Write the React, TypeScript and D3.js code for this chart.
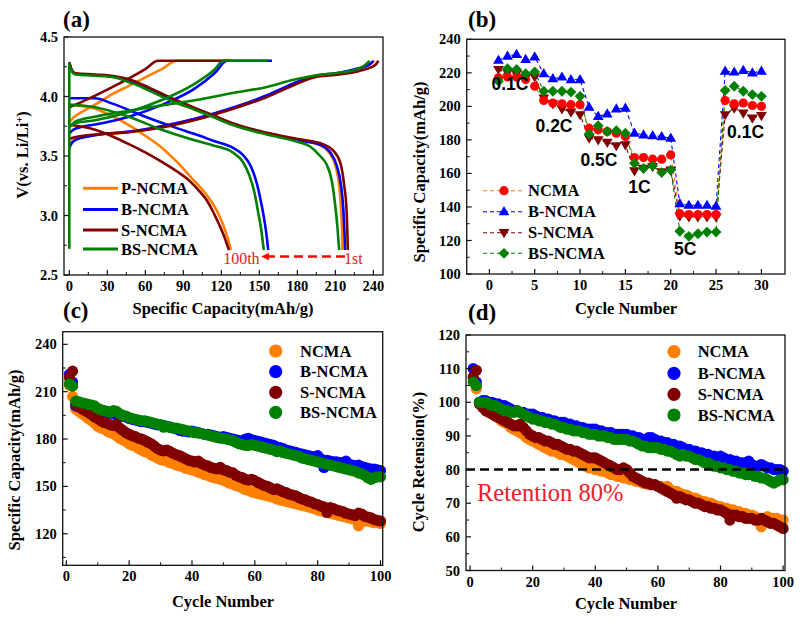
import * as d3 from 'd3';

const SERIF = "'Liberation Serif', 'Times New Roman', Times, serif";
const SANS = "'Liberation Sans', Arial, sans-serif";

const ORANGE = '#FF8000';
const BLUE = '#0000FF';
const MAROON = '#800000';
const GREEN = '#008000';
const RED = '#FF0000';
const NOTE_RED = '#E8202A';

// ---------- (a) charge / discharge curves, [capacity mAh/g, voltage V] ----------
const P_CH1: [number, number][] = [[0, 3.6], [3, 3.63], [10, 3.655], [20, 3.675], [47, 3.7], [73, 3.75], [100, 3.815], [130, 3.905], [156, 4.005], [177, 4.105], [193, 4.17], [213, 4.195], [229, 4.235], [237, 4.27], [241, 4.3]];
const P_DIS1: [number, number][] = [[0, 4.28], [2, 4.22], [5, 4.19], [20, 4.18], [36, 4.165], [47, 4.135], [63, 4.065], [81, 3.975], [100, 3.895], [113, 3.84], [129, 3.77], [156, 3.69], [182, 3.63], [198, 3.59], [205, 3.53], [210, 3.42], [213, 3.25], [214.5, 3.05], [215.3, 2.85], [215.5, 2.71]];
const P_CH100: [number, number][] = [[0, 3.78], [3, 3.82], [10, 3.87], [20, 3.93], [34, 4.02], [47, 4.09], [60, 4.16], [73, 4.23], [85, 4.3], [128, 4.3]];
const P_DIS100: [number, number][] = [[0, 3.93], [10, 3.92], [20, 3.9], [33, 3.84], [47, 3.76], [60, 3.67], [73, 3.57], [85, 3.45], [97, 3.31], [104, 3.23], [110, 3.15], [116, 3.05], [121.5, 2.92], [125, 2.81], [127.5, 2.71]];

const B_CH1: [number, number][] = [[0, 3.57], [2, 3.61], [6, 3.64], [15, 3.665], [30, 3.69], [47, 3.705], [73, 3.75], [100, 3.815], [130, 3.91], [156, 4.01], [177, 4.11], [193, 4.17], [213, 4.2], [229, 4.24], [237, 4.27], [240, 4.3]];
const B_DIS1: [number, number][] = [[0, 4.28], [2, 4.22], [5, 4.19], [20, 4.18], [36, 4.165], [47, 4.135], [63, 4.065], [81, 3.975], [100, 3.895], [113, 3.84], [129, 3.77], [156, 3.69], [182, 3.63], [199, 3.59], [206, 3.53], [211, 3.42], [214.5, 3.25], [216.3, 3.05], [217.2, 2.85], [217.6, 2.71]];
const B_CH100: [number, number][] = [[0, 3.69], [3, 3.72], [10, 3.745], [20.5, 3.765], [47, 3.83], [73, 3.93], [99.5, 4.07], [115, 4.2], [124.5, 4.3], [160, 4.3]];
const B_DIS100: [number, number][] = [[0, 3.985], [20, 3.985], [34, 3.94], [60, 3.83], [86, 3.73], [103, 3.67], [113, 3.63], [129, 3.57], [137, 3.51], [143, 3.42], [148, 3.27], [151, 3.13], [153.5, 2.99], [155.5, 2.85], [157, 2.71]];

const S_CH1: [number, number][] = [[0, 3.645], [5, 3.66], [20, 3.68], [47, 3.7], [73, 3.74], [100, 3.805], [130, 3.9], [156, 3.995], [177, 4.095], [193, 4.16], [213, 4.185], [229, 4.215], [238, 4.245], [242, 4.27], [244, 4.3]];
const S_DIS1: [number, number][] = [[0, 4.29], [2, 4.22], [5, 4.195], [20, 4.185], [36, 4.17], [47, 4.145], [63, 4.075], [81, 3.985], [100, 3.9], [113, 3.845], [129, 3.775], [156, 3.695], [182, 3.64], [200, 3.6], [208, 3.55], [214, 3.44], [217, 3.25], [218.8, 3.05], [219.5, 2.85], [219.8, 2.71]];
const S_CH100: [number, number][] = [[0, 3.91], [10, 3.955], [20, 4.005], [35, 4.085], [50, 4.17], [60, 4.23], [70, 4.3], [127, 4.3]];
const S_DIS100: [number, number][] = [[0, 3.76], [8, 3.75], [20.5, 3.72], [35, 3.66], [47, 3.6], [60, 3.53], [73, 3.45], [85, 3.37], [95, 3.29], [103, 3.2], [109, 3.12], [114, 3.02], [118, 2.93], [122, 2.83], [126, 2.71]];

const BS_CH1: [number, number][] = [[0, 3.74], [5, 3.79], [20, 3.83], [47, 3.88], [73, 3.925], [100, 3.97], [129, 4.03], [156, 4.08], [177, 4.14], [193, 4.175], [213, 4.2], [226, 4.225], [233, 4.26], [237, 4.3]];
const BS_DIS1: [number, number][] = [[0, 4.26], [2, 4.21], [5, 4.185], [20, 4.175], [36, 4.16], [47, 4.12], [57, 4.08], [63, 4.05], [81, 3.96], [100, 3.885], [113, 3.83], [129, 3.76], [156, 3.68], [180, 3.62], [190, 3.58], [198, 3.5], [203, 3.43], [207, 3.3], [209.5, 3.12], [211.5, 2.92], [213, 2.71]];
const BS_CH100: [number, number][] = [[0, 3.75], [5, 3.775], [20.5, 3.8], [47, 3.87], [73, 3.97], [99.5, 4.11], [114, 4.22], [121.8, 4.3], [157, 4.3]];
const BS_DIS100: [number, number][] = [[0, 3.93], [10, 3.925], [20.5, 3.91], [47, 3.83], [73, 3.72], [99.5, 3.63], [113, 3.59], [129, 3.53], [137, 3.45], [142, 3.34], [146, 3.2], [149, 3.03], [151.5, 2.88], [153.5, 2.71]];
const BS_REST: [number, number][] = [[0, 2.72], [0, 4.28]];

// ---------- (b) rate capability ----------
const RATE_CYCLES = d3.range(1, 31);
const NCMA_RATE = [217, 217.5, 217.5, 216, 212, 203.5, 202, 201.5, 201, 201, 187, 186, 185, 184, 182, 169.5, 169.5, 168.5, 168.5, 171, 136, 135.5, 135.5, 135.5, 135.5, 203.5, 201.5, 202, 200.5, 200];
const B_RATE = [227.5, 230, 231, 228, 229.5, 219.5, 216.5, 217.5, 216, 216, 199.5, 194, 195.5, 198.5, 199, 184, 183, 182.5, 182, 181, 142, 141, 141, 141, 140.5, 221, 220.5, 221.5, 220, 221];
const S_RATE = [222, 220, 219.5, 217, 217.5, 205, 201.5, 198.5, 196.5, 195, 181, 180, 178.5, 176.5, 177, 161.5, 163, 164, 161, 162, 134.5, 134, 134, 134, 134, 195, 199, 196, 193, 194.5];
const BS_RATE = [215, 222.5, 222, 219.5, 220.5, 209, 209, 209, 208.5, 206, 183.5, 188.5, 185, 185.5, 184, 166, 163, 164.5, 160.5, 162, 125.5, 122.5, 124, 125, 125, 209.5, 212, 209, 207, 206];
const RATE_LABELS = ['0.1C', '0.2C', '0.5C', '1C', '5C', '0.1C'];
const RATE_LABEL_AT: [number, number][] = [[2.27, 209.8], [7.13, 184.9], [12.09, 164.6], [16.56, 148.5], [21.6, 111.3], [28.25, 181]];

// ---------- (c) capacity vs cycle ----------
const CYCLES = d3.range(1, 101);
const NCMA_CAP = [214, 207, 199, 197.5, 196, 194.5, 193, 191.5, 190, 188,
  187, 186.5, 185, 184, 183.5, 182, 180.5, 179.5, 178.5, 177,
  176, 175.5, 174, 173, 172, 171.5, 170, 169, 168, 167,
  166.5, 166, 165, 164.5, 163.5, 163, 162.5, 161.5, 161, 160.5,
  160, 159, 158.5, 157.5, 157, 156, 155.5, 155, 154.5, 154,
  153, 152, 151.5, 150.5, 150, 149, 148, 147.5, 146.5, 146,
  145.5, 145, 144.5, 144, 143.5, 143, 142, 141.5, 141, 140.5,
  140, 139.5, 139, 138.5, 138, 137.5, 137, 136.5, 136, 135,
  134.5, 134, 133.5, 133, 132.5, 132, 131.5, 131, 130.5, 130,
  129.5, 129, 125, 128.5, 128, 128, 127.5, 127, 127, 126.5];
const B_CAP = [221, 216, 201, 200.5, 201, 200.5, 200, 199.5, 199, 199,
  198.5, 197.5, 197, 196.5, 196, 195.5, 195, 194.5, 194, 193,
  192.5, 192, 191.5, 191, 191, 190.5, 190, 189.5, 189, 189,
  188.5, 188, 187.5, 187, 186.5, 185.5, 185, 185, 184.5, 185,
  184.5, 184, 183.5, 183, 183, 182.5, 182, 181.5, 181, 181.5,
  181, 180.5, 180, 179.5, 179, 178.5, 180, 180.5, 179.5, 179,
  178.5, 178, 177.5, 177, 176.5, 176, 175, 174.5, 174, 173,
  172.5, 172, 171.5, 171, 170.5, 170, 169.5, 169, 168.5, 169.5,
  167.5, 162, 166.5, 166, 165.5, 165.5, 165, 165, 166, 164,
  163.5, 163, 163.5, 162.5, 162, 161.5, 161, 161, 160.5, 160];
const S_CAP = [219, 223, 202, 200.5, 199, 198, 197, 195.5, 194, 193,
  191.5, 190.5, 190, 189, 188.5, 189.5, 187, 185.5, 184, 183,
  182, 181.5, 180.5, 180, 179, 178, 177, 175.5, 174, 173,
  172.5, 173, 172, 171, 170, 169.5, 168.5, 167.5, 166.5, 166,
  165.5, 166, 164.5, 163.5, 163, 162, 161.5, 161, 162, 160.5,
  160, 159, 158.5, 157, 156, 155.5, 154.5, 154, 154.5, 153.5,
  152.5, 151.5, 150.5, 150, 149, 148, 148.5, 147.5, 146.5, 146,
  145, 144.5, 144, 143, 142, 141.5, 140.5, 140, 139, 138.5,
  137.5, 137, 133.5, 136.5, 136, 135, 134.5, 134, 133, 132.5,
  132, 131.5, 133, 132.5, 131, 130.5, 130, 129, 128.5, 128];
const BS_CAP = [215, 213.5, 204, 203.5, 203, 202.5, 202, 201.5, 201, 199.5,
  198.5, 198, 197.5, 197, 198, 197.5, 196, 195, 194.5, 193.5,
  193, 192.5, 192, 191.5, 191.5, 191, 190.5, 190, 189.5, 189,
  187.5, 188, 187.5, 187, 187, 186.5, 186, 185.5, 185, 184.5,
  184, 184, 183.5, 183, 182.5, 182, 181.5, 181, 180.5, 180.5,
  180, 179.5, 179, 178, 177, 176.5, 176, 176, 176.5, 176,
  175.5, 175, 174.5, 174, 173.5, 173, 172, 172.5, 171.5, 171,
  170.5, 170, 169.5, 169, 168, 167.5, 167, 166.5, 166, 165.5,
  165, 164.5, 164, 163.5, 163, 162.5, 162, 161.5, 161, 160.5,
  160, 159.5, 158.5, 158, 157, 155.5, 154.5, 155.5, 156, 156];

// ---------- (d) retention vs cycle ----------
const NCMA_RET = [107, 104, 100, 99, 98, 97.5, 97, 96, 95.5, 94.5,
  94, 93.5, 92.5, 92, 91.5, 91, 90.5, 89.5, 89, 88.5,
  88, 87.5, 87, 86.5, 86, 85.5, 85.5, 85, 84.5, 84.5,
  84, 83.5, 83, 82.5, 82, 81.5, 81, 80.5, 80.5, 80,
  80, 79.5, 79.5, 79, 78.5, 78.5, 78, 78, 77.5, 77.5,
  77, 77, 76.5, 76.5, 76, 76, 75.5, 75.5, 75.5, 75,
  75, 74.5, 75, 74, 73.5, 73.5, 73, 72.5, 72.5, 72,
  71.5, 71.5, 71, 70.5, 70.5, 70, 70, 69.5, 69, 69,
  68.5, 68.5, 68, 68, 67.5, 67.5, 67, 67, 66.5, 66.5,
  66, 65.5, 63, 65.5, 66, 65.5, 65.5, 65.5, 65, 65];
const B_RET = [110, 106, 100, 100.5, 100.5, 100, 100, 99.5, 99.5, 99,
  99, 98.5, 98, 97.5, 97.5, 97, 97, 96.5, 96.5, 96.5,
  96, 95.5, 95.5, 95, 95, 94.5, 94.5, 94, 94, 94,
  93.5, 93.5, 93, 93, 92.5, 92.5, 92, 92, 92, 92,
  91.5, 91.5, 91, 91, 91, 90.5, 90.5, 90.5, 90.5, 90.5,
  90, 90, 89.5, 89.5, 89, 89, 89.5, 89.5, 89, 88.5,
  88.5, 88, 88, 87.5, 87.5, 87, 87, 86.5, 86, 86,
  85.5, 85.5, 85, 85, 84.5, 84.5, 84, 84, 83.5, 84,
  83.5, 82.5, 83, 82.5, 82.5, 82, 82, 82, 82.5, 81.5,
  81, 81, 81.5, 81, 80.5, 80.5, 80, 80, 80, 79.5];
const S_RET = [107.5, 109.5, 99.5, 98.5, 97.5, 97, 96.5, 96, 95.5, 95,
  94.5, 94, 93.5, 93, 93, 93.5, 92.5, 91.5, 90.5, 90,
  89.5, 89.5, 89, 88.5, 88.5, 88, 87.5, 87.5, 87, 86.5,
  86, 86, 85.5, 85.5, 85, 84.5, 84, 83.5, 83.5, 83.5,
  83, 82.5, 82, 81.5, 81, 80.5, 80, 80, 80.5, 80,
  79, 78, 77.5, 77, 76.5, 76, 76, 75.5, 75.5, 75,
  74.5, 74, 73.5, 73, 72.5, 71.5, 72, 71.5, 71, 71,
  70.5, 70, 70, 69.5, 69, 69, 68.5, 68.5, 68, 68,
  67.5, 67, 65, 66.5, 66.5, 66, 66, 65.5, 65.5, 65.5,
  65, 65, 65.5, 65, 64.5, 64, 64, 63.5, 63, 62.5];
const BS_RET = [106, 105, 100, 100, 100, 99.5, 99, 99, 98.5, 98,
  97.5, 97.5, 97, 97, 97.5, 97, 96.5, 96, 95.5, 95,
  95, 94.5, 94.5, 94, 94, 93.5, 93.5, 93, 92.5, 92.5,
  92, 92, 91.5, 91.5, 91.5, 91, 91, 90.5, 90.5, 90.5,
  90, 90, 90, 89.5, 89.5, 89, 89, 89, 89, 89,
  88.5, 88.5, 88, 87.5, 87, 87, 86.5, 86.5, 86.5, 86.5,
  86, 86, 85.5, 85.5, 85, 84.5, 84, 84.5, 84, 84,
  83.5, 83, 83, 82.5, 82, 82, 81.5, 81, 81, 80.5,
  80.5, 80, 80, 79.5, 79.5, 79, 79, 78.5, 78.5, 78.5,
  78, 78, 77.5, 77.5, 77, 76.5, 76, 76.5, 77, 77];

// ---------- ticks ----------
const A_XTICKS = d3.range(0, 241, 30);
const A_YTICKS = [2.5, 3.0, 3.5, 4.0, 4.5];
const B_XTICKS = d3.range(0, 31, 5);
const B_YTICKS = d3.range(100, 241, 20);
const C_XTICKS = d3.range(0, 101, 20);
const C_YTICKS = d3.range(120, 241, 30);
const D_XTICKS = d3.range(0, 101, 20);
const D_YTICKS = d3.range(50, 121, 10);

type Lin = d3.ScaleLinear<number, number>;

interface AxesProps {
  x: Lin;
  y: Lin;
  xTicks: number[];
  xMinor: number[];
  yTicks: number[];
  yMinor: number[];
  yFmt?: (v: number) => string;
}

function Axes({ x, y, xTicks, xMinor, yTicks, yMinor, yFmt = (v) => String(v) }: AxesProps) {
  const [x0, x1] = x.range();
  const [y1, y0] = y.range();
  return (
    <g>
      <rect x={x0} y={y0} width={x1 - x0} height={y1 - y0} fill='none' stroke='#111' strokeWidth={1.3} />
      {xMinor.map((t) => (
        <line key={'xm' + t} x1={x(t)} x2={x(t)} y1={y1} y2={y1 - 3} stroke='#111' strokeWidth={1} />
      ))}
      {xTicks.map((t) => (
        <g key={'x' + t}>
          <line x1={x(t)} x2={x(t)} y1={y1} y2={y1 - 5} stroke='#111' strokeWidth={1.2} />
          <text x={x(t)} y={y1 + 16} textAnchor='middle' fontSize={14.5} fontWeight='bold'>
            {t}
          </text>
        </g>
      ))}
      {yMinor.map((t) => (
        <line key={'ym' + t} x1={x0} x2={x0 + 3} y1={y(t)} y2={y(t)} stroke='#111' strokeWidth={1} />
      ))}
      {yTicks.map((t) => (
        <g key={'y' + t}>
          <line x1={x0} x2={x0 + 5} y1={y(t)} y2={y(t)} stroke='#111' strokeWidth={1.2} />
          <text x={x0 - 6} y={y(t)} dy='0.35em' textAnchor='end' fontSize={14.5} fontWeight='bold'>
            {yFmt(t)}
          </text>
        </g>
      ))}
    </g>
  );
}

function YTitle({ x, y, children }: { x: number; y: number; children: React.ReactNode }) {
  return (
    <text transform={`translate(${x},${y}) rotate(-90)`} textAnchor='middle' fontSize={16.5} fontWeight='bold'>
      {children}
    </text>
  );
}

function PanelA() {
  const x = d3.scaleLinear().domain([-4.2, 247.6]).range([64, 383]);
  const y = d3.scaleLinear().domain([2.5, 4.5]).range([275, 37]);
  const line = d3.line<[number, number]>().x((d) => x(d[0])).y((d) => y(d[1])).curve(d3.curveMonotoneX);
  const straight = d3.line<[number, number]>().x((d) => x(d[0])).y((d) => y(d[1]));
  const groups: { color: string; curves: [number, number][][] }[] = [
    { color: ORANGE, curves: [P_CH1, P_DIS1, P_CH100, P_DIS100] },
    { color: BLUE, curves: [B_CH1, B_DIS1, B_CH100, B_DIS100] },
    { color: MAROON, curves: [S_CH1, S_DIS1, S_CH100, S_DIS100] },
    { color: GREEN, curves: [BS_CH1, BS_DIS1, BS_CH100, BS_DIS100] },
  ];
  const legend = [
    { name: 'P-NCMA', color: ORANGE },
    { name: 'B-NCMA', color: BLUE },
    { name: 'S-NCMA', color: MAROON },
    { name: 'BS-NCMA', color: GREEN },
  ];
  const legendY = [188.3, 209.5, 230, 249];
  const arrowY = y(2.655);
  return (
    <g>
      {groups.map((g) =>
        g.curves.map((c, i) => (
          <path key={g.color + i} d={line(c) ?? ''} fill='none' stroke={g.color} strokeWidth={2.6} strokeLinejoin='round' />
        ))
      )}
      <path d={straight(BS_REST) ?? ''} fill='none' stroke={GREEN} strokeWidth={2.6} />
      <Axes
        x={x}
        y={y}
        xTicks={A_XTICKS}
        xMinor={d3.range(15, 241, 30)}
        yTicks={A_YTICKS}
        yMinor={[2.75, 3.25, 3.75, 4.25]}
        yFmt={(v) => v.toFixed(1)}
      />
      {legend.map((l, i) => (
        <g key={l.name}>
          <line x1={83} x2={118} y1={legendY[i]} y2={legendY[i]} stroke={l.color} strokeWidth={3} />
          <text x={121} y={legendY[i]} dy='0.35em' fontSize={16.5} fontWeight='bold'>
            {l.name}
          </text>
        </g>
      ))}
      <line x1={x(217.6)} x2={x(155)} y1={arrowY} y2={arrowY} stroke={RED} strokeWidth={2.6} strokeDasharray='9 5' />
      <path
        d={`M${x(151.5)},${arrowY} L${x(157.5)},${arrowY - 3.8} L${x(157.5)},${arrowY + 3.8} Z`}
        fill={RED}
      />
      <text x={x(150.2)} y={y(2.59)} textAnchor='end' fontSize={16} fill={NOTE_RED}>
        100th
      </text>
      <text x={x(216.8)} y={y(2.59)} fontSize={16} fill={NOTE_RED}>
        1st
      </text>
      <text x={63} y={27} fontSize={23} fontWeight='bold'>(a)</text>
      <text x={223} y={314} textAnchor='middle' fontSize={16.5} fontWeight='bold'>
        Specific Capacity(mAh/g)
      </text>
      <YTitle x={28} y={155}>
        V(vs. Li/Li<tspan baselineShift='super' fontSize={10}>+</tspan>)
      </YTitle>
    </g>
  );
}

function marker(kind: string, cx: number, cy: number, color: string, key: string) {
  if (kind === 'circle') return <circle key={key} cx={cx} cy={cy} r={4.6} fill={color} />;
  if (kind === 'up')
    return <path key={key} d={`M${cx},${cy - 5.6} L${cx + 5.4},${cy + 3.6} L${cx - 5.4},${cy + 3.6} Z`} fill={color} />;
  if (kind === 'down')
    return <path key={key} d={`M${cx},${cy + 5.6} L${cx + 5.4},${cy - 3.6} L${cx - 5.4},${cy - 3.6} Z`} fill={color} />;
  return <path key={key} d={`M${cx},${cy - 5.4} L${cx + 5.4},${cy} L${cx},${cy + 5.4} L${cx - 5.4},${cy} Z`} fill={color} />;
}

function PanelB() {
  const x = d3.scaleLinear().domain([-2.5, 32.6]).range([466.7, 785]);
  const y = d3.scaleLinear().domain([100, 240]).range([274, 39.3]);
  const line = d3.line<number>().x((_, i) => x(RATE_CYCLES[i])).y((d) => y(d));
  const series = [
    { name: 'B-NCMA', values: B_RATE, color: BLUE, lineColor: BLUE, kind: 'up' },
    { name: 'S-NCMA', values: S_RATE, color: MAROON, lineColor: MAROON, kind: 'down' },
    { name: 'NCMA', values: NCMA_RATE, color: RED, lineColor: ORANGE, kind: 'circle' },
    { name: 'BS-NCMA', values: BS_RATE, color: GREEN, lineColor: GREEN, kind: 'diamond' },
  ];
  const legendOrder = ['NCMA', 'B-NCMA', 'S-NCMA', 'BS-NCMA'];
  const legendY = [190.7, 211.7, 232.7, 253.3];
  return (
    <g>
      {series.map((s) => (
        <path key={s.name} d={line(s.values) ?? ''} fill='none' stroke={s.lineColor} strokeWidth={1.1} strokeDasharray='4 3' />
      ))}
      {series.map((s) => s.values.map((v, i) => marker(s.kind, x(RATE_CYCLES[i]), y(v), s.color, s.name + i)))}
      <Axes
        x={x}
        y={y}
        xTicks={B_XTICKS}
        xMinor={d3.range(2.5, 31, 5)}
        yTicks={B_YTICKS}
        yMinor={d3.range(110, 240, 20)}
      />
      {RATE_LABELS.map((t, i) => (
        <text
          key={i}
          x={x(RATE_LABEL_AT[i][0])}
          y={y(RATE_LABEL_AT[i][1])}
          textAnchor='middle'
          style={{ fontFamily: SANS }}
          fontWeight='bold'
          fontSize={17.5}
        >
          {t}
        </text>
      ))}
      {legendOrder.map((n, i) => {
        const s = series.find((d) => d.name === n)!;
        return (
          <g key={n}>
            <line x1={483} x2={525} y1={legendY[i]} y2={legendY[i]} stroke={s.lineColor} strokeWidth={1.1} strokeDasharray='4 3' />
            {marker(s.kind, 504, legendY[i], s.color, 'lg' + n)}
            <text x={528} y={legendY[i]} dy='0.35em' fontSize={16.5} fontWeight='bold'>
              {n}
            </text>
          </g>
        );
      })}
      <text x={468} y={27} fontSize={23} fontWeight='bold'>(b)</text>
      <text x={626} y={314} textAnchor='middle' fontSize={16.5} fontWeight='bold'>
        Cycle Number
      </text>
      <YTitle x={425} y={172}>Specific Capacity(mAh/g)</YTitle>
    </g>
  );
}

const SCATTER = [
  { name: 'NCMA', color: ORANGE },
  { name: 'B-NCMA', color: BLUE },
  { name: 'S-NCMA', color: MAROON },
  { name: 'BS-NCMA', color: GREEN },
];

function PanelC() {
  const x = d3.scaleLinear().domain([-1.15, 100.7]).range([62.7, 382.7]);
  const y = d3.scaleLinear().domain([100, 248]).range([565.3, 331.7]);
  const data = [NCMA_CAP, B_CAP, S_CAP, BS_CAP];
  const legendY = [351, 371.7, 392.3, 412.3];
  return (
    <g>
      {SCATTER.map((s, k) =>
        data[k].map((v, i) => <circle key={s.name + i} cx={x(CYCLES[i])} cy={y(v)} r={5.6} fill={s.color} />)
      )}
      <Axes
        x={x}
        y={y}
        xTicks={C_XTICKS}
        xMinor={d3.range(10, 101, 20)}
        yTicks={C_YTICKS}
        yMinor={d3.range(105, 248, 30)}
      />
      {SCATTER.map((s, i) => (
        <g key={s.name}>
          <circle cx={275.7} cy={legendY[i]} r={6.6} fill={s.color} />
          <text x={300} y={legendY[i]} dy='0.35em' fontSize={16.5} fontWeight='bold'>
            {s.name}
          </text>
        </g>
      ))}
      <text x={63} y={318} fontSize={23} fontWeight='bold'>(c)</text>
      <text x={223} y={607} textAnchor='middle' fontSize={16.5} fontWeight='bold'>
        Cycle Number
      </text>
      <YTitle x={20} y={460}>Specific Capacity(mAh/g)</YTitle>
    </g>
  );
}

function PanelD() {
  const x = d3.scaleLinear().domain([-1.3, 100.6]).range([466, 785]);
  const y = d3.scaleLinear().domain([50, 120]).range([570.5, 335]);
  const data = [NCMA_RET, B_RET, S_RET, BS_RET];
  const legendY = [351.7, 373.3, 394.3, 415];
  return (
    <g>
      {SCATTER.map((s, k) =>
        data[k].map((v, i) => <circle key={s.name + i} cx={x(CYCLES[i])} cy={y(v)} r={5.6} fill={s.color} />)
      )}
      <line x1={x(-1.3)} x2={x(100.6)} y1={y(80)} y2={y(80)} stroke='#000' strokeWidth={2.6} strokeDasharray='9 5' />
      <text x={477} y={501} fontSize={24.5} fill={NOTE_RED}>
        Retention 80%
      </text>
      <Axes
        x={x}
        y={y}
        xTicks={D_XTICKS}
        xMinor={d3.range(10, 101, 20)}
        yTicks={D_YTICKS}
        yMinor={d3.range(55, 120, 10)}
      />
      {SCATTER.map((s, i) => (
        <g key={s.name}>
          <circle cx={674} cy={legendY[i]} r={6.6} fill={s.color} />
          <text x={697.7} y={legendY[i]} dy='0.35em' fontSize={16.5} fontWeight='bold'>
            {s.name}
          </text>
        </g>
      ))}
      <text x={468} y={320} fontSize={23} fontWeight='bold'>(d)</text>
      <text x={626} y={609} textAnchor='middle' fontSize={16.5} fontWeight='bold'>
        Cycle Number
      </text>
      <YTitle x={424} y={462}>Cycle Retension(%)</YTitle>
    </g>
  );
}

export default function App() {
  return (
    <svg
      width={809}
      height={621}
      viewBox='0 0 809 621'
      style={{ position: 'absolute', left: 0, top: 0, background: '#fff', fontFamily: SERIF }}
    >
      <rect width={809} height={621} fill='#fff' />
      <PanelA />
      <PanelB />
      <PanelC />
      <PanelD />
    </svg>
  );
}
